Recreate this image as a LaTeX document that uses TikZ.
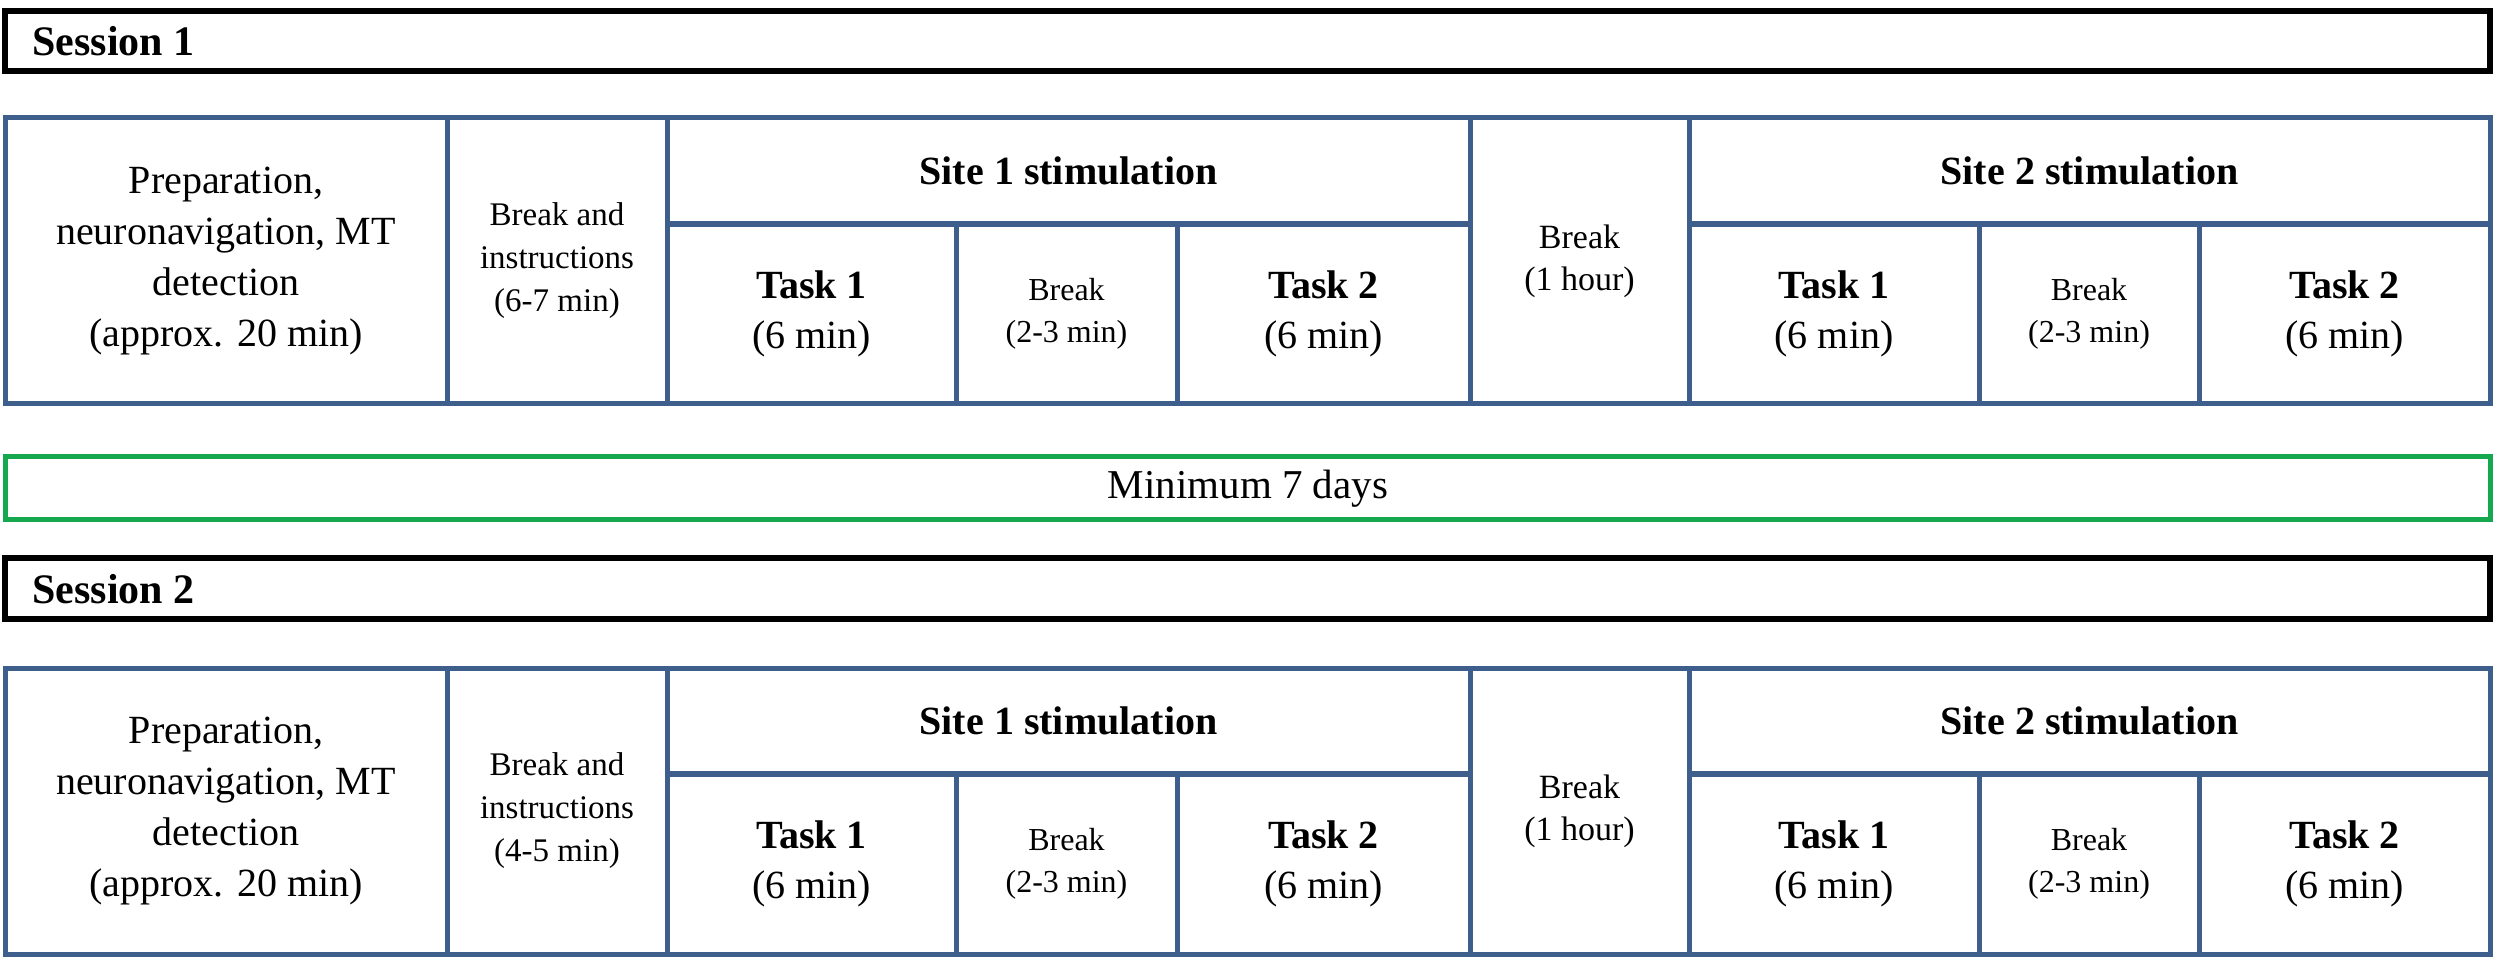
\documentclass[tikz,border=0pt]{standalone}
\usepackage{fontspec}
\setmainfont{Liberation Serif}
\definecolor{tblue}{RGB}{62,94,140}
\definecolor{tgreen}{RGB}{22,168,78}
\tikzset{
  bline/.style={draw=tblue, line width=2.5pt},
  hline/.style={draw=tblue, line width=3.2pt},
  sessbox/.style={draw=black, line width=3pt},
  greenbox/.style={draw=tgreen, line width=2.5pt},
  txt/.style={align=center, inner sep=0pt},
  prep/.style={txt, font=\fontsize{20}{25.5}\selectfont},
  instr/.style={txt, font=\fontsize{16.5}{21.5}\selectfont},
  sitehdr/.style={txt, font=\bfseries\fontsize{20}{24}\selectfont},
  task/.style={txt, font=\fontsize{20}{25}\selectfont},
  smallbreak/.style={txt, font=\fontsize{16}{21}\selectfont},
  hourbreak/.style={txt, font=\fontsize{17}{21}\selectfont},
  sesslabel/.style={txt, anchor=west, font=\bfseries\fontsize{21}{25}\selectfont},
  mintext/.style={txt, font=\fontsize{20.5}{24}\selectfont},
}
\newcommand\tcell[7]{%
  \draw[bline] (#2,#3) rectangle (#4,#5);
  \node[#6] (#1) at ({(#2+#4)/2},{(#3+#5)/2}) {#7};}
\newcommand\sessiontable[3]{%
  \pgfmathsetmacro\yt{#2}%
  \pgfmathsetmacro\yh{#2+106}%
  \pgfmathsetmacro\yb{#2+286}%
  \tcell{#1prep}{5}{\yt}{447}{\yb}{prep}{Preparation,\\neuronavigation, MT\\detection\\(approx. 20 min)}
  \tcell{#1instr}{447}{\yt}{667}{\yb}{instr}{Break and\\instructions\\(#3 min)}
  \tcell{#1siteA}{667}{\yt}{1470}{\yh}{sitehdr}{Site 1 stimulation}
  \tcell{#1taskAa}{667}{\yh}{956}{\yb}{task}{\textbf{Task 1}\\(6 min)}
  \tcell{#1breakA}{956}{\yh}{1177}{\yb}{smallbreak}{Break\\(2-3 min)}
  \tcell{#1taskAb}{1177}{\yh}{1470}{\yb}{task}{\textbf{Task 2}\\(6 min)}
  \tcell{#1hour}{1470}{\yt}{1689}{\yb}{hourbreak}{Break\\(1 hour)}
  \tcell{#1siteB}{1689}{\yt}{2490}{\yh}{sitehdr}{Site 2 stimulation}
  \tcell{#1taskBa}{1689}{\yh}{1979}{\yb}{task}{\textbf{Task 1}\\(6 min)}
  \tcell{#1breakB}{1979}{\yh}{2199}{\yb}{smallbreak}{Break\\(2-3 min)}
  \tcell{#1taskBb}{2199}{\yh}{2490}{\yb}{task}{\textbf{Task 2}\\(6 min)}
  \draw[hline] (667,\yh) -- (1470,\yh);
  \draw[hline] (1689,\yh) -- (2490,\yh);
  \draw[bline] (5,\yt) rectangle (2490,\yb);
}
\begin{document}
\begin{tikzpicture}[x=0.5pt, y=-0.5pt]
  \useasboundingbox[fill=white] (0,0) rectangle (2500,962);
  % Session 1 header
  \draw[sessbox] (5,11) rectangle (2490,71);
  \node[sesslabel] (s1lab) at (32,41) {Session 1};
  \sessiontable{a}{118}{6-7}
  % gap
  \draw[greenbox] (5,457) rectangle (2490,519);
  \node[mintext] (gap) at (1248,489) {Minimum 7 days};
  % Session 2 header
  \draw[sessbox] (5,558) rectangle (2490,619);
  \node[sesslabel] (s2lab) at (32,589) {Session 2};
  \sessiontable{b}{668}{4-5}
\end{tikzpicture}
\end{document}
